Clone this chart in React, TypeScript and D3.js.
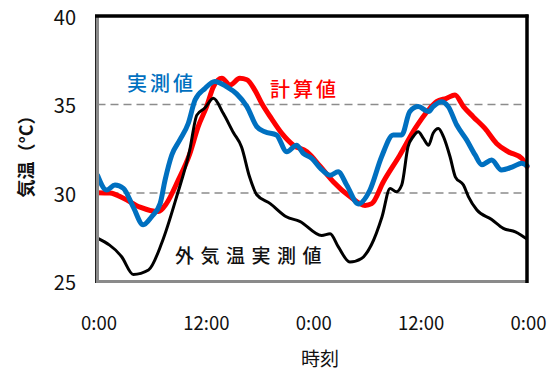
import React from "react";
import * as d3 from "d3";

// Hours since the first midnight, and temperatures (°C)
const calcHours = [0, 1.4, 2.9, 4.75, 6.8, 7.7, 9.0, 10.3, 11.25, 12.2, 12.95, 13.9, 14.8, 15.9, 16.7, 17.6, 18.35, 19.45, 20.6, 21.9, 23.4, 24.9, 26.35, 28.2, 29.9, 30.65, 31.95, 33.8, 35.5, 37.0, 37.9, 39.0, 39.95, 40.9, 42.0, 43.3, 44.6, 45.9, 47.4, 48];
const calcTemps = [30.02, 30.0, 29.7, 29.2, 28.95, 29.4, 30.7, 32.2, 33.75, 34.9, 36.0, 36.48, 36.1, 36.48, 36.4, 35.8, 35.07, 34.2, 33.37, 32.7, 32.33, 31.5, 30.64, 29.8, 29.3, 29.4, 30.64, 32.15, 33.65, 34.7, 35.16, 35.35, 35.54, 34.88, 34.3, 33.65, 32.8, 32.33, 31.96, 31.49];

const measHours = [0, 1.0, 1.95, 2.9, 4.0, 5.1, 6.05, 7.0, 7.55, 8.3, 9.2, 10.15, 10.9, 12.0, 13.1, 14.45, 15.55, 16.7, 17.8, 18.7, 20.0, 21.15, 22.25, 23.0, 23.95, 24.9, 26.0, 26.9, 27.85, 29.15, 30.45, 31.75, 33.05, 34.0, 34.9, 35.85, 37.0, 37.5, 38.45, 39.2, 40.15, 41.25, 42.2, 42.95, 44.05, 45.15, 46.45, 47.4, 48];
const measTemps = [31.0, 30.17, 30.45, 30.26, 29.2, 28.2, 28.66, 29.4, 30.73, 32.15, 33.0, 33.94, 35.25, 35.9, 36.3, 36.0, 35.6, 34.88, 33.75, 33.46, 33.28, 32.33, 32.7, 32.24, 31.96, 31.4, 31.0, 31.2, 30.45, 29.38, 30.17, 32.05, 33.28, 33.28, 34.6, 34.88, 34.6, 34.88, 35.16, 34.88, 33.84, 33.0, 32.15, 31.6, 31.86, 31.3, 31.49, 31.68, 31.54];

const outHours = [0, 2.7, 4.0, 5.7, 7.2, 8.85, 10.3, 11.1, 12.0, 12.95, 14.05, 15.2, 16.1, 17.0, 17.8, 19.3, 21.1, 22.6, 25.05, 26.0, 26.9, 28.2, 29.5, 30.6, 31.8, 32.7, 33.4, 34.0, 34.7, 35.3, 35.85, 36.4, 37.0, 37.5, 38.1, 38.65, 39.4, 40.0, 40.9, 41.45, 42.4, 44.05, 45.35, 46.7, 47.4, 48];
const outTemps = [27.45, 26.4, 25.4, 25.65, 27.2, 29.8, 32.4, 34.4, 34.8, 35.35, 34.5, 33.4, 32.6, 30.9, 29.9, 29.4, 28.66, 28.4, 27.6, 27.7, 26.97, 26.1, 26.3, 27.06, 28.66, 30.26, 30.07, 30.45, 32.6, 33.2, 33.46, 33.1, 32.7, 33.37, 33.65, 33.2, 32.05, 30.9, 30.45, 29.8, 29.04, 28.5, 28.0, 27.8, 27.6, 27.4];

const yTicks = [25, 30, 35, 40];
const gridValues = [30, 35];
const xTicks = [0, 12, 24, 36, 48];
const xTickLabels = ["0:00", "12:00", "0:00", "12:00", "0:00"];

const FONT = "'Noto Sans CJK JP', 'Noto Sans', sans-serif";

export default function App() {
  const W = 558;
  const H = 371;
  const x = d3.scaleLinear().domain([0, 48]).range([97.5, 527]);
  const y = d3.scaleLinear().domain([25, 40]).range([281.5, 16]);

  const line = d3
    .line<[number, number]>()
    .x((d) => x(d[0]))
    .y((d) => y(d[1]))
    .curve(d3.curveMonotoneX);

  const zip = (hs: number[], ts: number[]) => hs.map((h, i) => [h, ts[i]] as [number, number]);

  const left = x(0);
  const right = x(48);
  const top = y(40);
  const bottom = y(25);

  return (
    <svg
      width={W}
      height={H}
      style={{ position: "absolute", left: 0, top: 0, background: "#fff" }}
      fontFamily={FONT}
    >
      <rect width={W} height={H} fill="#fff" />

      {/* dashed grid lines */}
      {gridValues.map((v) => (
        <line
          key={v}
          x1={left}
          x2={right}
          y1={y(v)}
          y2={y(v)}
          stroke="#8c8c8c"
          strokeWidth={1.5}
          strokeDasharray="8,5"
        />
      ))}

      {/* series */}
      <path d={line(zip(calcHours, calcTemps)) || ""} fill="none" stroke="#ff0000" strokeWidth={5} strokeLinejoin="round" strokeLinecap="round" />
      <path d={line(zip(measHours, measTemps)) || ""} fill="none" stroke="#0070c0" strokeWidth={5} strokeLinejoin="round" strokeLinecap="round" />
      <path d={line(zip(outHours, outTemps)) || ""} fill="none" stroke="#000" strokeWidth={3} strokeLinejoin="round" />

      {/* plot frame */}
      <line x1={left - 2} x2={left - 2} y1={top - 1} y2={bottom + 1.5} stroke="#222" strokeWidth={1} />
      <line x1={left} x2={left} y1={top} y2={bottom + 1.5} stroke="#8a8a8a" strokeWidth={3} />
      <line x1={left - 1.5} x2={right} y1={bottom} y2={bottom} stroke="#8a8a8a" strokeWidth={3} />
      <line x1={left - 2.5} x2={right + 1.5} y1={top} y2={top} stroke="#000" strokeWidth={3.5} />
      <line x1={right} x2={right} y1={top - 1.5} y2={bottom + 1.5} stroke="#000" strokeWidth={3.5} />

      {/* y tick labels */}
      {yTicks.map((v) => (
        <text key={v} x={76} y={y(v)} textAnchor="end" dominantBaseline="central" fontSize={20} fill="#111">
          {v}
        </text>
      ))}

      {/* x tick labels */}
      {xTicks.map((h, i) => (
        <text key={i} x={x(h) + 1.5} y={322} textAnchor="middle" dominantBaseline="central" fontSize={18.5} fill="#111">
          {xTickLabels[i]}
        </text>
      ))}

      {/* axis titles */}
      <text x={320} y={357} textAnchor="middle" dominantBaseline="central" fontSize={19} fill="#111">
        時刻
      </text>
      <text
        transform="translate(25,152) rotate(-90)"
        textAnchor="middle"
        dominantBaseline="central"
        fontSize={18}
        fontWeight="bold"
        fill="#111"
      >
        気温（°C）
      </text>

      {/* series labels */}
      <text x={127} y={82} dominantBaseline="central" fontSize={20} fontWeight={500} letterSpacing={3} fill="#0070c0">
        実測値
      </text>
      <text x={270} y={88} dominantBaseline="central" fontSize={20} fontWeight={500} letterSpacing={3} fill="#ff0000">
        計算値
      </text>
      <text x={175} y={254} dominantBaseline="central" fontSize={19} fontWeight={500} letterSpacing={6.5} fill="#111">
        外気温実測値
      </text>
    </svg>
  );
}
